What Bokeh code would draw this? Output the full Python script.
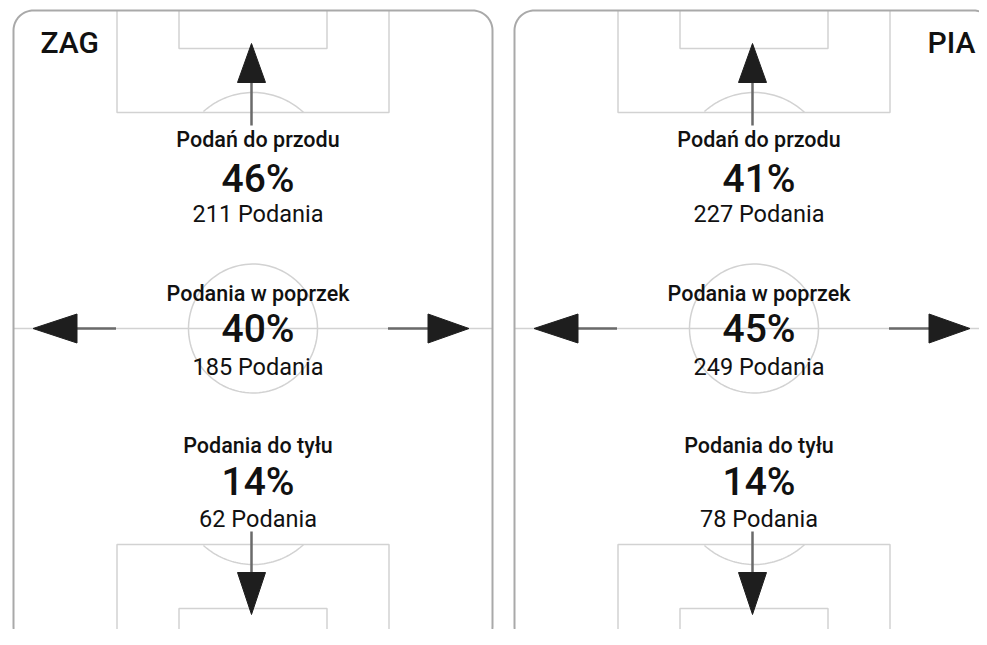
import numpy as np
from bokeh.plotting import figure
from bokeh.models import Range1d, ColumnDataSource
from bokeh.embed import file_html
from bokeh.resources import INLINE
from bokeh.core.properties import value

# ---- data ----
teams = ["ZAG", "PIA"]
categories = ["Podań do przodu", "Podania w poprzek", "Podania do tyłu"]
pct_zag = [46, 40, 14]
pct_pia = [41, 45, 14]
cnt_zag = [211, 185, 62]
cnt_pia = [227, 249, 78]
count_word = "Podania"

# ---- layout (screen-pixel coordinates) ----
W, H = 979, 629
X0, Y0 = 0, 0
panel_cx = [252.5, 753.5]
CY = 328
HW, HH, R = 239.5, 318, 20

BORDER = "#a9a9a9"
LINE = "#d2d2d2"
SHAFT = "#6a6a6a"
HEAD = "#1e1e1e"
MED = value("Roboto Medium")
REG = value("Roboto")

p = figure(width=W, height=H, output_backend="svg", toolbar_location=None,
           x_range=Range1d(X0, X0 + W), y_range=Range1d(Y0 + H, Y0),
           min_border=0)
p.axis.visible = False
p.grid.visible = False
p.outline_line_color = None
p.background_fill_color = "white"
p.border_fill_color = "white"


def arc_pts(cx, cy, r, a0, a1, n=60):
    t = np.linspace(a0, a1, n)
    return cx + r * np.cos(t), cy + r * np.sin(t)


def rounded_rect(cx, cy, hw, hh, r):
    xs, ys = [], []
    corners = [
        (cx + hw - r, cy - hh + r, -np.pi / 2, 0),
        (cx + hw - r, cy + hh - r, 0, np.pi / 2),
        (cx - hw + r, cy + hh - r, np.pi / 2, np.pi),
        (cx - hw + r, cy - hh + r, np.pi, 1.5 * np.pi),
    ]
    for (ccx, ccy, a0, a1) in corners:
        x, y = arc_pts(ccx, ccy, r, a0, a1, 20)
        xs.extend(x); ys.extend(y)
    xs.append(xs[0]); ys.append(ys[0])
    return xs, ys


for i, cx in enumerate(panel_cx):
    ax = cx - 1.5
    top, bot = CY - HH, CY + HH
    # pitch markings
    p.line([cx - HW, cx + HW], [CY, CY], line_color=LINE, line_width=1.5)
    x, y = arc_pts(cx, CY, 64.5, 0, 2 * np.pi, 120)
    p.line(x, y, line_color=LINE, line_width=1.5)
    for sgn, edge in [(-1, top), (1, bot)]:
        pb = CY + sgn * 216
        sy = CY + sgn * 280
        p.line([cx - 136, cx - 136, cx + 136, cx + 136], [edge, pb, pb, edge],
               line_color=LINE, line_width=1.5)
        p.line([cx - 74, cx - 74, cx + 74, cx + 74], [edge, sy, sy, edge],
               line_color=LINE, line_width=1.5)
        # penalty arc
        spot = pb - sgn * 54
        t = np.linspace(0, 2 * np.pi, 200)
        axs = cx + 74 * np.cos(t)
        ays = spot + 74 * np.sin(t)
        idx = np.where((sgn * (ays - pb)) > 0)[0]
        axs, ays = axs[idx], ays[idx]
        order = np.argsort(axs)
        p.line(axs[order], ays[order], line_color=LINE, line_width=1.5)
    # outer border
    bx, by = rounded_rect(cx, CY, HW, HH, R)
    p.line(bx, by, line_color=BORDER, line_width=2)

    # arrows: shafts
    p.segment(x0=[ax, ax, cx - 137, cx + 135], y0=[CY - 203, CY + 203, CY, CY],
              x1=[ax, ax, cx - 176, cx + 175], y1=[CY - 246, CY + 245, CY, CY],
              line_color=SHAFT, line_width=2.5)
    heads_x = [
        [ax - 14, ax + 14, ax],
        [ax - 14, ax + 14, ax],
        [cx - 176, cx - 176, cx - 220],
        [cx + 175, cx + 175, cx + 216],
    ]
    heads_y = [
        [CY - 246, CY - 246, CY - 285],
        [CY + 244, CY + 244, CY + 286],
        [CY - 14.5, CY + 14.5, CY],
        [CY - 14.5, CY + 14.5, CY],
    ]
    p.patches(heads_x, heads_y, fill_color=HEAD, line_color=HEAD, line_width=1)

    # texts
    pcts = pct_zag if i == 0 else pct_pia
    cnts = cnt_zag if i == 0 else cnt_pia
    tx = cx + 5
    src = ColumnDataSource(dict(
        x=[tx] * 3,
        yl=[CY - 189, CY - 35, CY + 117],
        yp=[CY - 150, CY + 0, CY + 153],
        yc=[CY - 114.5, CY + 38.5, CY + 190.5],
        lab=categories,
        pct=[f"{v}%" for v in pcts],
        cnt=[f"{v} {count_word}" for v in cnts],
    ))
    p.text(x="x", y="yl", text="lab", source=src, text_align="center",
           text_baseline="alphabetic", text_font=MED,
           text_font_size="21.5px", text_color="#111111")
    p.text(x="x", y="yp", text="pct", source=src, text_align="center",
           text_baseline="alphabetic", text_font=MED,
           text_font_size="39px", text_color="#111111")
    p.text(x="x", y="yc", text="cnt", source=src, text_align="center",
           text_baseline="alphabetic", text_font=REG,
           text_font_size="23.5px", text_color="#111111")

    # team label
    if i == 0:
        p.text(x=[cx - 212.5], y=[42], text=[teams[i]], text_align="left",
               text_baseline="alphabetic", text_font=MED,
               text_font_size="30px", text_color="#111111")
    else:
        p.text(x=[cx + 221.5], y=[42], text=[teams[i]], text_align="right",
               text_baseline="alphabetic", text_font=MED,
               text_font_size="30px", text_color="#111111")

open("out.html", "w").write(file_html(p, INLINE))
